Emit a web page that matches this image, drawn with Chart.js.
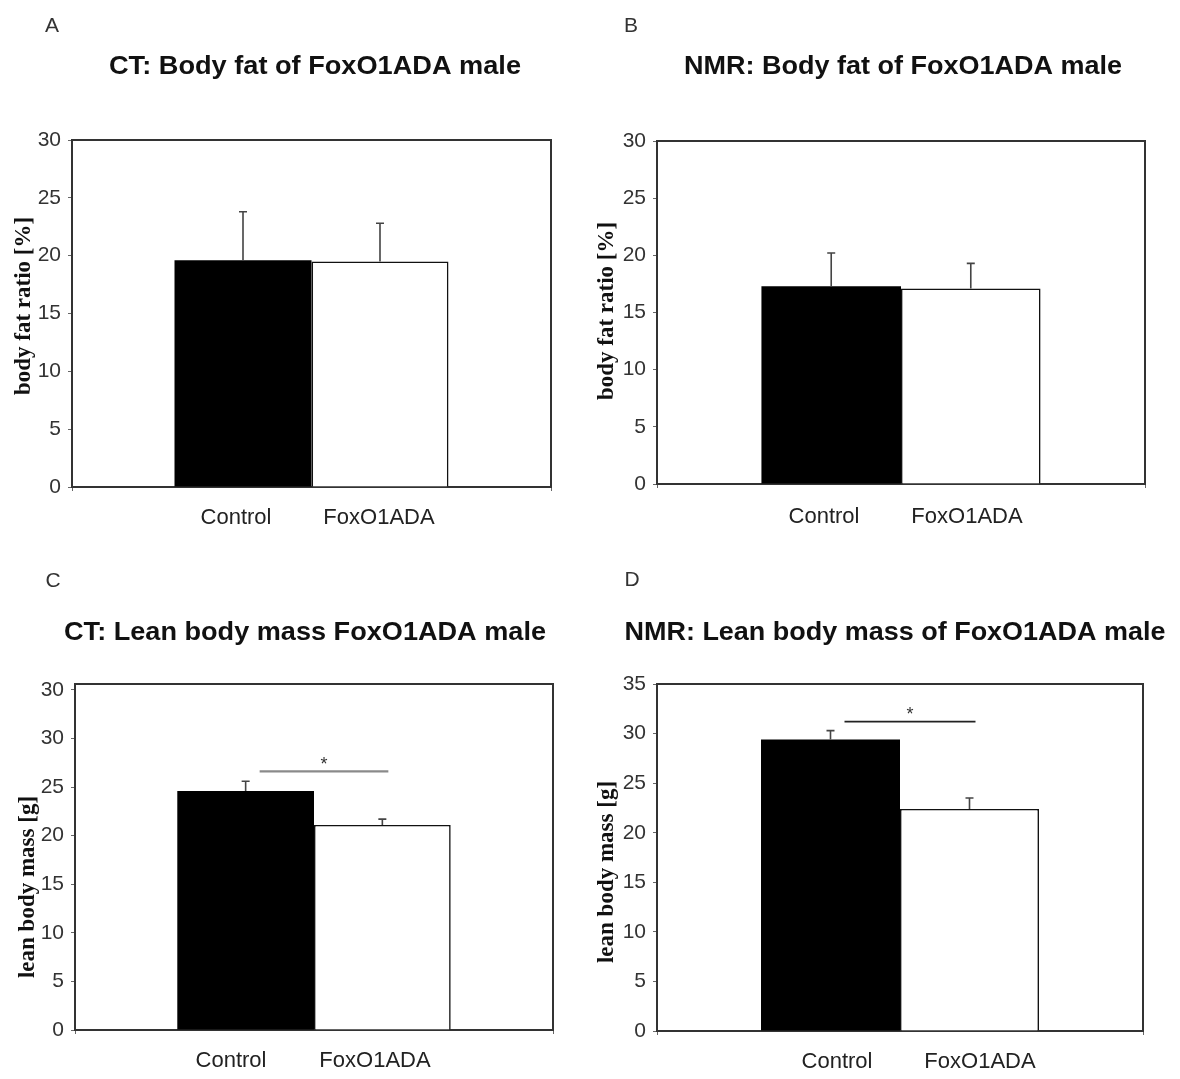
<!DOCTYPE html>
<html>
<head>
<meta charset="utf-8">
<script src="https://cdn.jsdelivr.net/npm/chart.js@4/dist/chart.umd.min.js"></script>
<style>
  html, body { margin: 0; padding: 0; background: #fff; }
  #wrap { position: relative; width: 1180px; height: 1079px; overflow: hidden; }
  #wrap canvas { position: absolute; }
</style>
</head>
<body>
<div id="wrap">
  <canvas id="pA" width="590" height="540" style="left:0;top:0"></canvas>
  <canvas id="pB" width="590" height="540" style="left:590px;top:0"></canvas>
  <canvas id="pC" width="590" height="519" style="left:0;top:560px"></canvas>
  <canvas id="pD" width="590" height="519" style="left:590px;top:560px"></canvas>
</div>
<script>
// Groups compared in every panel
const groups = ['Control', 'FoxO1ADA'];

// Body fat ratio [%] (mean and upper error)
const ctFatMean = [19.6, 19.5];
const ctFatErr = [4.2, 3.3];
const nmrFatMean = [17.3, 17.1];
const nmrFatErr = [2.9, 2.2];

// Lean body mass [g] (mean and upper error)
const ctLeanMean = [24.6, 21.1];
const ctLeanErr = [1.0, 0.6];
const nmrLeanMean = [29.4, 22.4];
const nmrLeanErr = [0.9, 1.1];

// Significance bar levels
const ctLeanSig = 26.6;
const nmrLeanSig = 31.2;

// Tick labels (one per 5 units)
const fatTicks = ['0', '5', '10', '15', '20', '25', '30'];
const ctLeanTicks = ['0', '5', '10', '15', '20', '25', '30', '30'];
const nmrLeanTicks = ['0', '5', '10', '15', '20', '25', '30', '35'];

const SANS = "'Liberation Sans', Arial, sans-serif";
const SERIF = "'Liberation Serif', 'Times New Roman', serif";

// Draw text centred at (cx, cy), stretched horizontally to a given width
function stretchedText(ctx, text, cx, cy, font, width, color) {
  ctx.save();
  ctx.font = font;
  ctx.fillStyle = color;
  ctx.textAlign = 'center';
  ctx.textBaseline = 'middle';
  const w = ctx.measureText(text).width;
  ctx.translate(cx, cy);
  if (width) ctx.scale(width / w, 1);
  ctx.fillText(text, 0, 0);
  ctx.restore();
}

const decor = {
  id: 'decor',
  afterDatasetsDraw(chart) {
    const p = chart.options.plugins.decor;
    const ctx = chart.ctx;
    const y = chart.scales.y;
    const area = chart.chartArea;

    // frame: top and right edges
    ctx.save();
    ctx.strokeStyle = '#333';
    ctx.lineWidth = 2;
    ctx.beginPath();
    ctx.moveTo(area.left, area.top);
    ctx.lineTo(area.right, area.top);
    ctx.lineTo(area.right, area.bottom);
    ctx.stroke();

    // upper error bars
    ctx.strokeStyle = '#444';
    ctx.lineWidth = 1.6;
    const centers = [];
    p.mean.forEach((m, i) => {
      const bar = chart.getDatasetMeta(i).data[0];
      centers.push(bar.x);
      const yt = y.getPixelForValue(m + p.err[i]);
      ctx.beginPath();
      ctx.moveTo(bar.x, bar.y);
      ctx.lineTo(bar.x, yt);
      ctx.moveTo(bar.x - 4, yt);
      ctx.lineTo(bar.x + 4, yt);
      ctx.stroke();
    });

    // significance bar with asterisk
    if (p.sig != null) {
      const ys = y.getPixelForValue(p.sig);
      const x1 = centers[0] + 14;
      const x2 = centers[1] + 6;
      ctx.strokeStyle = p.sigColor;
      ctx.lineWidth = p.sigWidth;
      ctx.beginPath();
      ctx.moveTo(x1, ys);
      ctx.lineTo(x2, ys);
      ctx.stroke();
      ctx.fillStyle = '#333';
      ctx.font = '18px ' + SANS;
      ctx.textAlign = 'center';
      ctx.textBaseline = 'middle';
      ctx.fillText('*', (x1 + x2) / 2, y.getPixelForValue(p.sig + 1) + 3);
    }
    ctx.restore();
  },
  afterDraw(chart) {
    const p = chart.options.plugins.decor;
    const ctx = chart.ctx;
    // panel letter
    stretchedText(ctx, p.letter, p.letterPos[0], p.letterPos[1], '21px ' + SANS, null, '#333');
    // title
    stretchedText(ctx, p.title, p.titlePos[0], p.titlePos[1], 'bold 25px ' + SANS, p.titleWidth, '#111');
    // group labels under the bars
    groups.forEach((g, i) => {
      stretchedText(ctx, g, p.labelPos[i], p.labelY, '22px ' + SANS, null, '#222');
    });
    // y axis title
    ctx.save();
    ctx.translate(p.yTitlePos[0], p.yTitlePos[1]);
    ctx.rotate(-Math.PI / 2);
    ctx.font = 'bold 23px ' + SERIF;
    ctx.fillStyle = '#111';
    ctx.textAlign = 'center';
    ctx.textBaseline = 'middle';
    ctx.fillText(p.yTitle, 0, 0);
    ctx.restore();
  }
};

function makePanel(p) {
  return new Chart(document.getElementById(p.id), {
    type: 'bar',
    data: {
      labels: [''],
      datasets: groups.map((g, i) => ({
        label: g,
        data: [p.mean[i]],
        backgroundColor: i === 0 ? '#000' : '#fff',
        borderColor: '#111',
        borderWidth: i === 0 ? 0 : 1.6,
        categoryPercentage: 0.572,
        barPercentage: 1
      }))
    },
    options: {
      responsive: false,
      animation: false,
      devicePixelRatio: 1,
      layout: { padding: p.pad },
      plugins: {
        legend: { display: false },
        tooltip: { enabled: false },
        title: { display: false },
        decor: p
      },
      scales: {
        x: {
          type: 'category',
          offset: true,
          grid: { offset: true, drawOnChartArea: false, drawTicks: true, tickLength: 4, color: '#666', lineWidth: 1 },
          border: { display: true, color: '#333', width: 2 },
          ticks: { display: false },
          afterFit: s => { s.height = p.xh; }
        },
        y: {
          min: 0,
          max: p.yMax,
          afterBuildTicks: s => { s.ticks = p.ticks.map((t, k) => ({ value: k * 5 })); },
          ticks: {
            callback: (v, k) => p.ticks[k],
            font: { family: SANS, size: 21 },
            color: '#333',
            padding: 7
          },
          grid: { drawOnChartArea: false, drawTicks: true, tickLength: 4, color: '#666', lineWidth: 1 },
          border: { display: true, color: '#333', width: 2 },
          afterFit: s => { s.width = p.yw; }
        }
      }
    },
    plugins: [decor]
  });
}

makePanel({
  id: 'pA', letter: 'A', title: 'CT: Body fat of FoxO1ADA male', yTitle: 'body fat ratio [%]',
  mean: ctFatMean, err: ctFatErr, ticks: fatTicks, yMax: 30, sig: null,
  pad: { left: 0, top: 140, right: 39, bottom: 0 }, yw: 72, xh: 53,
  letterPos: [52, 26], titlePos: [315, 67], titleWidth: 412,
  labelPos: [236, 379], labelY: 518, yTitlePos: [24, 306]
});

makePanel({
  id: 'pB', letter: 'B', title: 'NMR: Body fat of FoxO1ADA male', yTitle: 'body fat ratio [%]',
  mean: nmrFatMean, err: nmrFatErr, ticks: fatTicks, yMax: 30, sig: null,
  pad: { left: 0, top: 141, right: 35, bottom: 0 }, yw: 67, xh: 56,
  letterPos: [41, 26], titlePos: [313, 67], titleWidth: 438,
  labelPos: [234, 377], labelY: 517, yTitlePos: [17, 311]
});

makePanel({
  id: 'pC', letter: 'C', title: 'CT: Lean body mass FoxO1ADA male', yTitle: 'lean body mass [g]',
  mean: ctLeanMean, err: ctLeanErr, ticks: ctLeanTicks, yMax: 35.6,
  sig: ctLeanSig, sigColor: '#8a8a8a', sigWidth: 2.2,
  pad: { left: 0, top: 124, right: 37, bottom: 0 }, yw: 75, xh: 49,
  letterPos: [53, 21], titlePos: [305, 73], titleWidth: 482,
  labelPos: [231, 375], labelY: 501, yTitlePos: [28, 327]
});

makePanel({
  id: 'pD', letter: 'D', title: 'NMR: Lean body mass of FoxO1ADA male', yTitle: 'lean body mass [g]',
  mean: nmrLeanMean, err: nmrLeanErr, ticks: nmrLeanTicks, yMax: 35,
  sig: nmrLeanSig, sigColor: '#222', sigWidth: 1.6,
  pad: { left: 0, top: 124, right: 37, bottom: 0 }, yw: 67, xh: 48,
  letterPos: [42, 20], titlePos: [305, 73], titleWidth: 541,
  labelPos: [247, 390], labelY: 502, yTitlePos: [17, 312]
});
</script>
</body>
</html>
